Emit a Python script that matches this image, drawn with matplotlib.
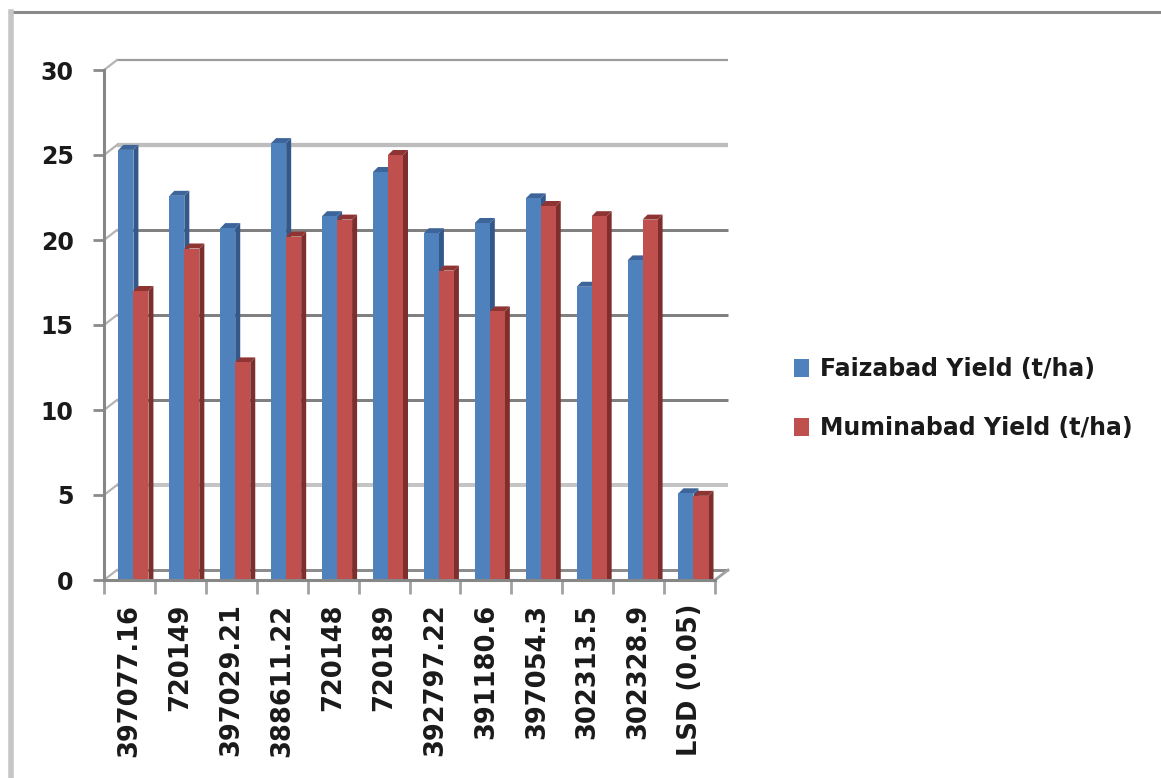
import matplotlib
matplotlib.use("Agg")
import matplotlib.pyplot as plt
from matplotlib.patches import Polygon, Patch
from matplotlib.lines import Line2D

# Potato clone yields at two sites
categories = ["397077.16", "720149", "397029.21", "388611.22", "720148", "720189",
              "392797.22", "391180.6", "397054.3", "302313.5", "302328.9", "LSD (0.05)"]
faizabad = [25.3, 22.6, 20.7, 25.7, 21.4, 24.0, 20.4, 21.0, 22.45, 17.25, 18.8, 5.1]
muminabad = [17.0, 19.5, 12.8, 20.2, 21.2, 25.0, 18.2, 15.8, 22.0, 21.4, 21.2, 4.95]
series_names = ["Faizabad Yield (t/ha)", "Muminabad Yield (t/ha)"]
y_ticks = [0, 5, 10, 15, 20, 25, 30]

W, H = 1161, 778
fig = plt.figure(figsize=(W / 100, H / 100), dpi=100)
FONT = "DejaVu Sans"
TEXT_COLOR = "#1a1a1a"


def px_rect(x0, y0, x1, y1):
    return [x0 / W, 1 - y1 / H, (x1 - x0) / W, (y1 - y0) / H]


ax = fig.add_axes(px_rect(104, 70, 715, 580))
n = len(categories)
ax.set_xlim(-0.5, n - 0.5)
ax.set_ylim(0, 30)

# pixel -> data unit conversions for the pseudo-3D offsets
p0 = ax.transData.transform((0, 0))
p1 = ax.transData.transform((1, 1))
ppx, ppy = p1[0] - p0[0], p1[1] - p0[1]


def dx(px):
    return px / ppx


def dy(px):
    return px / ppy


WALL_DX, WALL_DY = 13, 10
BAR_DX, BAR_DY = 5, 5

# back wall gridlines
grid_style = {30: ("#9c9c9c", 2.2), 25: ("#bdbdbd", 4.3), 20: ("#808080", 3.0),
              15: ("#808080", 3.0), 10: ("#808080", 3.0), 5: ("#c4c4c4", 4.0),
              0: ("#8c8c8c", 3.0)}
x_left, x_right = -0.5, n - 0.5
for v in y_ticks:
    col, lw = grid_style[v]
    ax.plot([x_left + dx(WALL_DX), x_right + dx(WALL_DX)],
            [v + dy(WALL_DY), v + dy(WALL_DY)],
            color=col, lw=lw * 0.72, clip_on=False, zorder=1,
            solid_capstyle="butt")
    # side wall connector
    ax.plot([x_left, x_left + dx(WALL_DX)], [v, v + dy(WALL_DY)],
            color="#b4b4b4", lw=1.6, clip_on=False, zorder=1)
# floor right edge
ax.plot([x_right, x_right + dx(WALL_DX)], [0, dy(WALL_DY)],
        color="#a0a0a0", lw=2.0, clip_on=False, zorder=1)

# bars with simple 3D faces
bw = 0.295
offsets = [-0.07, 0.225]
colors = [("#4F81BD", "#35588a", "#3d6599"), ("#C0504D", "#7e2f2d", "#8e3432")]
for s, vals in enumerate([faizabad, muminabad]):
    front, side, top = colors[s]
    for i, v in enumerate(vals):
        x0 = i + offsets[s] - bw / 2
        x1 = x0 + bw
        ax.add_patch(Polygon([(x1, 0), (x1 + dx(BAR_DX), 0),
                              (x1 + dx(BAR_DX), v + dy(BAR_DY)), (x1, v)],
                             closed=True, facecolor=side, edgecolor="none",
                             zorder=3 + s * 3, clip_on=False))
        ax.add_patch(Polygon([(x0, v), (x1, v), (x1 + dx(BAR_DX), v + dy(BAR_DY)),
                              (x0 + dx(BAR_DX), v + dy(BAR_DY))],
                             closed=True, facecolor=top, edgecolor="none",
                             zorder=3 + s * 3, clip_on=False))
    ax.bar([i + offsets[s] for i in range(n)], vals, width=bw, color=front,
           edgecolor="none", zorder=4 + s * 3)

# axes styling
for sp in ["top", "right"]:
    ax.spines[sp].set_visible(False)
for sp in ["left", "bottom"]:
    ax.spines[sp].set_color("#878787")
    ax.spines[sp].set_linewidth(2.2)
    ax.spines[sp].set_zorder(10)
ax.set_facecolor("none")

ax.set_yticks(y_ticks)
ax.set_yticklabels([str(t) for t in y_ticks], fontsize=17, family=FONT,
                   fontweight="bold", color=TEXT_COLOR)
ax.tick_params(axis="y", direction="out", length=7.9, width=2.0, color="#8a8a8a", pad=14)

ax.set_xticks(range(n))
ax.set_xticklabels(categories, rotation=90, fontsize=18.5, family=FONT,
                   fontweight="bold", color=TEXT_COLOR, va="top", ha="center")
ax.tick_params(axis="x", which="major", length=0, pad=17)
ax.set_xticks([k - 0.5 for k in range(n + 1)], minor=True)
ax.tick_params(axis="x", which="minor", direction="out", length=10, width=2.0,
               color="#a2a2a2")

# legend
handles = [Patch(facecolor=colors[0][0], edgecolor="none"),
           Patch(facecolor=colors[1][0], edgecolor="none")]
leg = fig.legend(handles, series_names, loc="upper left",
                 bbox_to_anchor=(794 / W, 1 - 357 / H), frameon=False,
                 prop={"family": FONT, "size": 17, "weight": "bold"},
                 handlelength=0.65, handleheight=0.8, handletextpad=0.45,
                 labelspacing=1.5, borderpad=0, borderaxespad=0)
for t in leg.get_texts():
    t.set_color(TEXT_COLOR)

# chart area border
fig.add_artist(Line2D([10 / W, 1], [1 - 12 / H, 1 - 12 / H], transform=fig.transFigure,
                      color="#8a8a8a", lw=2.2))
fig.add_artist(Line2D([11 / W, 11 / W], [0, 1 - 12 / H], transform=fig.transFigure,
                      color="#c6c6c6", lw=4.0))

fig.savefig("out.png", dpi=100)
